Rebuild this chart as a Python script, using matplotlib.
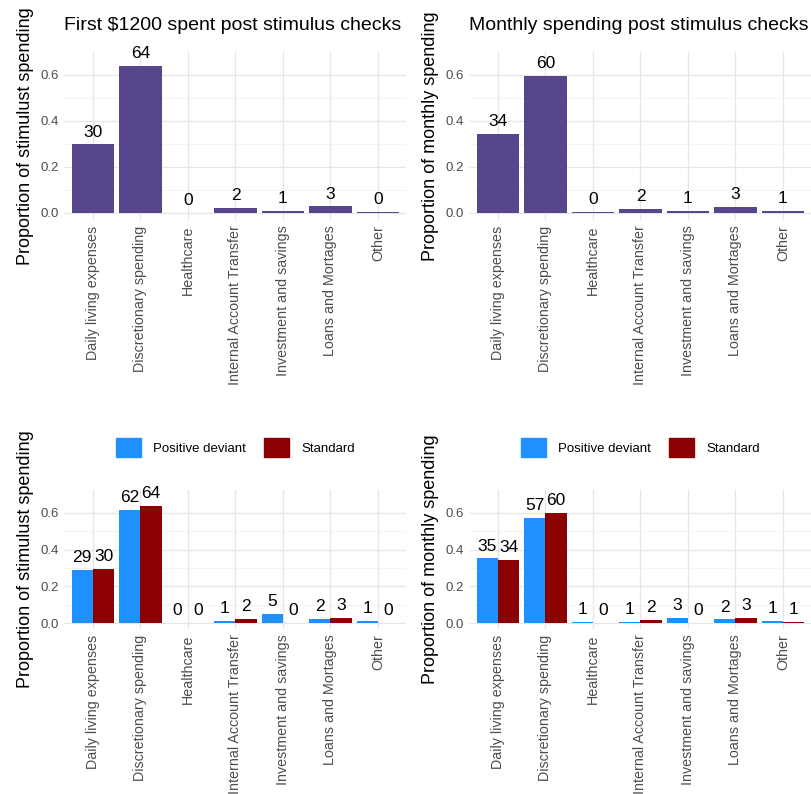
import matplotlib
matplotlib.use("Agg")
import matplotlib.pyplot as plt
import numpy as np
from matplotlib.patches import Patch

# categories shared by all panels
categories = ["Daily living expenses", "Discretionary spending", "Healthcare",
              "Internal Account Transfer", "Investment and savings",
              "Loans and Mortages", "Other"]

# top panels: overall proportions
stim_all = [0.297, 0.638, 0.0, 0.022, 0.008, 0.027, 0.003]
month_all = [0.342, 0.596, 0.004, 0.016, 0.007, 0.026, 0.008]

# bottom panels: by group
stim_pd = [0.288, 0.618, 0.002, 0.012, 0.048, 0.022, 0.010]
stim_std = [0.297, 0.638, 0.001, 0.022, 0.0, 0.027, 0.003]
month_pd = [0.352, 0.572, 0.008, 0.006, 0.026, 0.020, 0.010]
month_std = [0.342, 0.598, 0.003, 0.016, 0.003, 0.026, 0.008]

groups = ["Positive deviant", "Standard"]
purple = "#58468C"
blue = "#1E90FF"
darkred = "#8B0000"
tick_grey = "#4D4D4D"

plt.rcParams['font.family'] = ['Liberation Sans', 'DejaVu Sans']

fig = plt.figure(figsize=(8.12, 7.94), dpi=100)
W, H = 812, 794


def make_ax(left, right, top, bottom):
    return fig.add_axes([left / W, 1 - bottom / H, (right - left) / W, (bottom - top) / H])


def style(ax, ylabel, ymax):
    x = np.arange(len(categories))
    ax.set_xlim(-0.6, len(categories) - 0.4)
    ax.set_ylim(-0.032, ymax)
    ax.set_xticks(x)
    ax.set_xticklabels(categories, rotation=90, fontsize=10.3, color=tick_grey)
    ax.set_yticks([0, 0.2, 0.4, 0.6])
    ax.set_yticklabels(["0.0", "0.2", "0.4", "0.6"], fontsize=9.5, color=tick_grey)
    ax.set_yticks([0.1, 0.3, 0.5], minor=True)
    ax.tick_params(length=0, which="both", pad=4)
    ax.grid(True, which="major", color="#E6E6E6", lw=0.9)
    ax.grid(True, which="minor", axis="y", color="#EFEFEF", lw=0.5)
    ax.set_axisbelow(True)
    for s in ax.spines.values():
        s.set_visible(False)
    ax.set_ylabel(ylabel, fontsize=13, labelpad=5)


def add_labels(ax, xs, vals):
    for xi, v in zip(xs, vals):
        ax.annotate(str(int(round(v * 100))), (xi, v), xytext=(0, 3.5),
                    textcoords="offset points", ha="center", va="bottom", fontsize=12.5)


def single(ax, vals, title, ylabel, ymax):
    x = np.arange(len(categories))
    ax.bar(x, vals, width=0.9, color=purple)
    add_labels(ax, x, vals)
    style(ax, ylabel, ymax)
    ax.set_title(title, loc="left", fontsize=14, pad=16)


def double(ax, a, b, ylabel, ymax):
    x = np.arange(len(categories))
    ax.bar(x - 0.225, a, width=0.45, color=blue)
    ax.bar(x + 0.225, b, width=0.45, color=darkred)
    add_labels(ax, x - 0.225, a)
    add_labels(ax, x + 0.225, b)
    style(ax, ylabel, ymax)
    handles = [Patch(color=blue), Patch(color=darkred)]
    ax.legend(handles, groups, loc="lower center", bbox_to_anchor=(0.5, 1.15), ncol=2,
              frameon=False, fontsize=9.5, handlelength=1.9, handleheight=1.9,
              columnspacing=1.4, handletextpad=0.9)


ax1 = make_ax(64.5, 406.5, 52, 220)
single(ax1, stim_all, "First \\$1200 spent post stimulus checks",
       "Proportion of stimulust spending", 0.70)

ax2 = make_ax(469.5, 811.5, 52, 220)
single(ax2, month_all, "Monthly spending post stimulus checks",
       "Proportion of monthly spending", 0.70)

ax3 = make_ax(64.5, 406.5, 490, 629)
double(ax3, stim_pd, stim_std, "Proportion of stimulust spending", 0.725)

ax4 = make_ax(469.5, 811.5, 490, 629)
double(ax4, month_pd, month_std, "Proportion of monthly spending", 0.725)

fig.savefig("out.png", dpi=100, facecolor="white")
